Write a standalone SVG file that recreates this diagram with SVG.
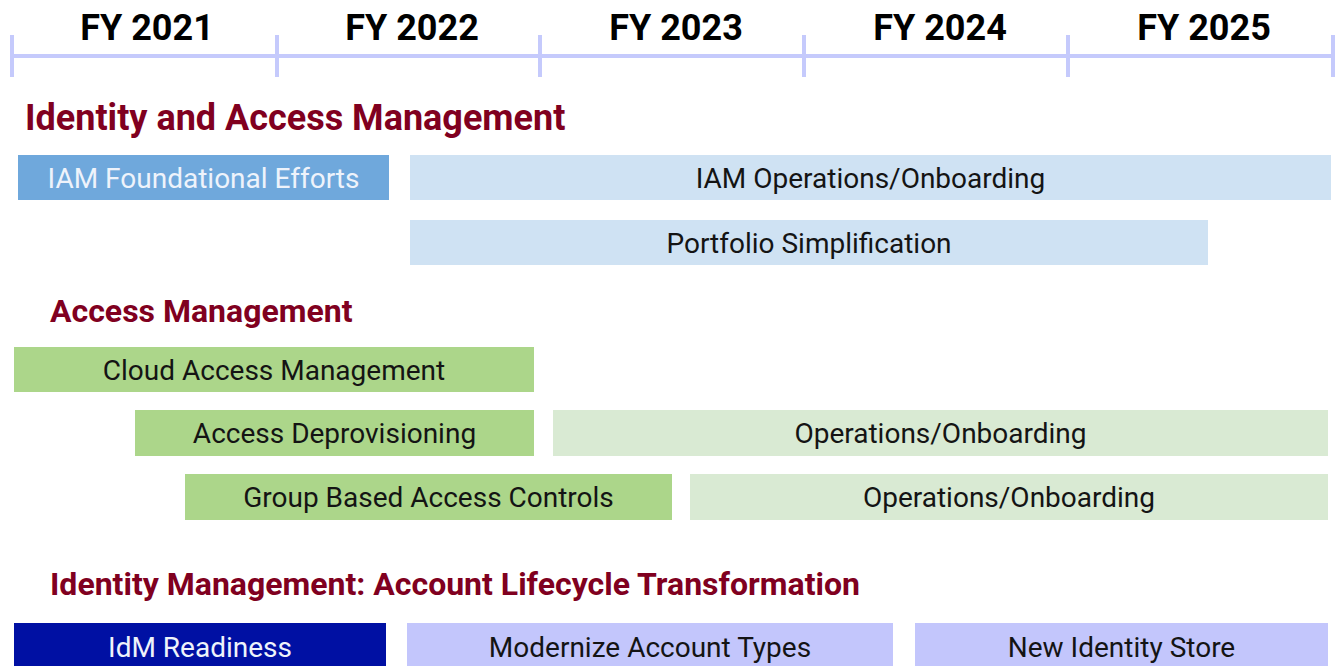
<svg xmlns="http://www.w3.org/2000/svg" width="1341" height="666" viewBox="0 0 1341 666">
<style>
.yr{font-family:Roboto,"Liberation Sans",sans-serif;font-weight:bold;font-size:36px;fill:#000;text-anchor:middle}
.hd{font-family:Roboto,"Liberation Sans",sans-serif;font-weight:bold;font-size:32px;fill:#800020}
.h1{font-size:36px}
.bt{font-family:Roboto,"Liberation Sans",sans-serif;font-size:28px;fill:#141414;text-anchor:middle}
.wt{fill:#eef3fb}
.tl{stroke:#c5cafc;stroke-width:4;fill:none}
.b1{fill:#6fa8dc}.b2{fill:#cfe2f3}.g1{fill:#acd68a}.g2{fill:#d9ead3}.d1{fill:#0010a3}.d2{fill:#c3c6fc}
</style>
<rect width="1341" height="666" fill="#fff"/>
<g id="timeline">
<path class="tl" d="M12 56H1333M12 35V77M277 35V77M540 35V77M804 35V77M1068 35V77M1333 35V77"/>
<text class="yr" x="147" y="40">FY 2021</text>
<text class="yr" x="412" y="40">FY 2022</text>
<text class="yr" x="676" y="40">FY 2023</text>
<text class="yr" x="940" y="40">FY 2024</text>
<text class="yr" x="1204" y="40">FY 2025</text>
</g>
<g id="headings">
<text class="hd h1" x="25" y="130">Identity and Access Management</text>
<text class="hd" x="50" y="322">Access Management</text>
<text class="hd" x="50" y="595">Identity Management: Account Lifecycle Transformation</text>
</g>
<g id="iam-foundational"><rect class="b1" x="18" y="155" width="371" height="45"/><text class="bt wt" x="203.5" y="188">IAM Foundational Efforts</text></g>
<g id="iam-operations"><rect class="b2" x="410" y="155" width="921" height="45"/><text class="bt" x="870.5" y="188">IAM Operations/Onboarding</text></g>
<g id="portfolio"><rect class="b2" x="410" y="220" width="798" height="45"/><text class="bt" x="809" y="253">Portfolio Simplification</text></g>
<g id="cloud-access"><rect class="g1" x="14" y="347" width="520" height="45"/><text class="bt" x="274" y="380">Cloud Access Management</text></g>
<g id="deprovisioning"><rect class="g1" x="135" y="410" width="399" height="46"/><text class="bt" x="334.5" y="443">Access Deprovisioning</text></g>
<g id="ops1"><rect class="g2" x="553" y="410" width="775" height="46"/><text class="bt" x="940.5" y="443">Operations/Onboarding</text></g>
<g id="group-based"><rect class="g1" x="185" y="474" width="487" height="46"/><text class="bt" x="428.5" y="507">Group Based Access Controls</text></g>
<g id="ops2"><rect class="g2" x="690" y="474" width="638" height="46"/><text class="bt" x="1009" y="507">Operations/Onboarding</text></g>
<g id="idm-readiness"><rect class="d1" x="14" y="623" width="372" height="50"/><text class="bt wt" x="200" y="657">IdM Readiness</text></g>
<g id="modernize"><rect class="d2" x="407" y="623" width="486" height="50"/><text class="bt" x="650" y="657">Modernize Account Types</text></g>
<g id="new-store"><rect class="d2" x="915" y="623" width="413" height="50"/><text class="bt" x="1121.5" y="657">New Identity Store</text></g>
</svg>
